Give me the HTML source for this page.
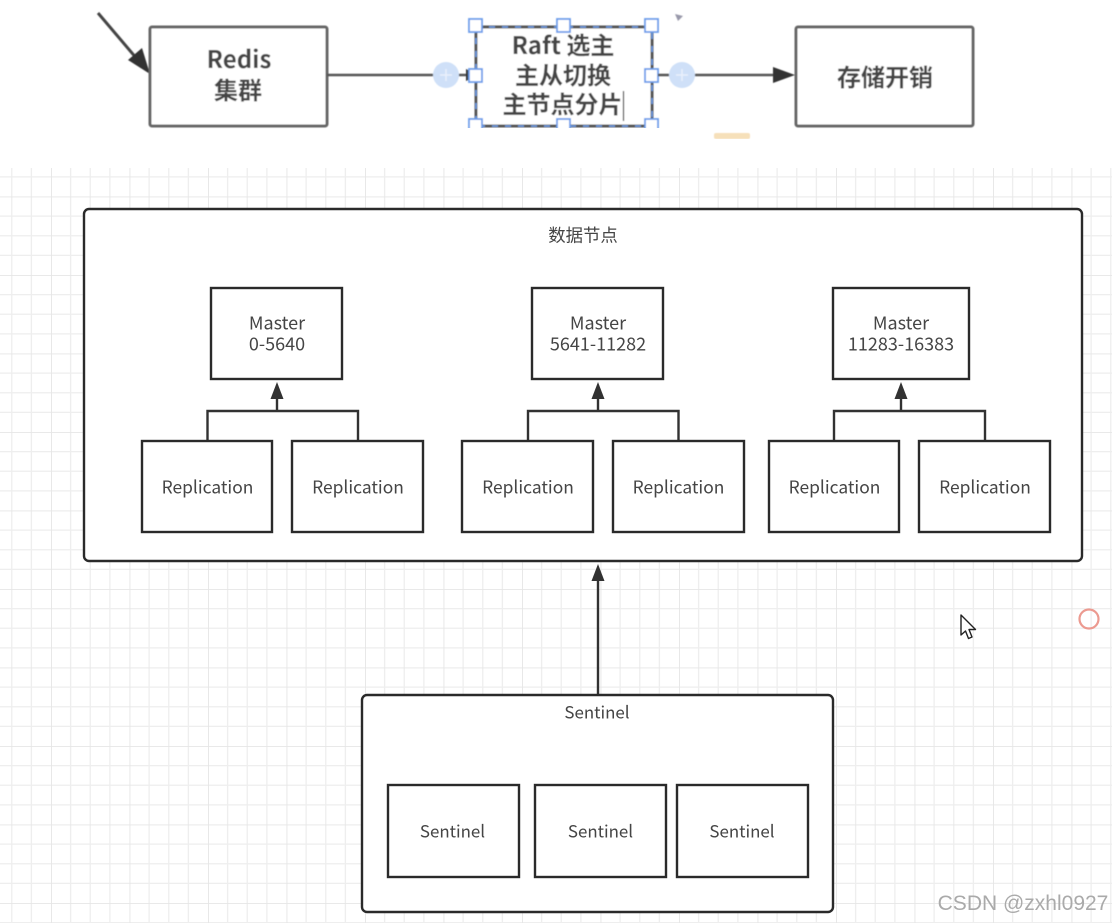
<!DOCTYPE html>
<html lang="zh">
<head>
<meta charset="utf-8">
<title>Redis Sentinel</title>
<style>
html,body{margin:0;padding:0;background:#fff}
body{width:1112px;height:923px;overflow:hidden}
svg{display:block}
text{font-family:"Noto Sans CJK SC","Liberation Sans",sans-serif;text-anchor:middle}
.t{font-size:17.4px;fill:#444}
.m{font-size:18px;fill:#444}
.s{font-size:16.9px;fill:#444}
.b{font-size:24px;font-weight:700;fill:#444}
.box{fill:#fff;stroke:#2b2b2b;stroke-width:2.4}
.con{fill:none;stroke:#333;stroke-width:2.4}
.top{fill:#fff;stroke:#666;stroke-width:3}
.h{fill:#fff;stroke:#6d9eeb;stroke-width:1.8}
</style>
</head>
<body>
<svg width="1112" height="923" viewBox="0 0 1112 923" xmlns="http://www.w3.org/2000/svg">
<defs>
<pattern id="g" width="78.5" height="78.5" patternUnits="userSpaceOnUse" patternTransform="translate(51 39.5)">
<path d="M19.6 0V78.5M39.25 0V78.5M58.9 0V78.5M0 19.6H78.5M0 39.25H78.5M0 58.9H78.5" stroke="#eeeeee" stroke-width="1.3" fill="none"/>
<path d="M0 0V78.5M0 0H78.5" stroke="#e6e6e6" stroke-width="1.8" fill="none"/>
</pattern>
<filter id="bl"><feGaussianBlur stdDeviation="0.55"/></filter>
<filter id="bs"><feGaussianBlur stdDeviation="0.3"/></filter>
</defs>
<rect x="0" y="168" width="1112" height="755" fill="url(#g)"/>

<g filter="url(#bl)">
<path d="M98 13L143 66" stroke="#444" stroke-width="3" fill="none"/>
<path d="M150 74L128 60L142 48Z" fill="#333"/>
<rect class="top" x="150" y="27" width="177" height="99" rx="2"/>
<text class="b" x="239" y="68">Redis</text>
<text class="b" x="238" y="99">集群</text>
<path d="M327 75H470" stroke="#555" stroke-width="2.4" fill="none"/>
<path d="M466 69L478 75L466 81Z" fill="#333"/>
<circle cx="446" cy="75" r="13" fill="#cfe0f8"/>
<path d="M440 75H452M446 69V81" stroke="#e9f0fc" stroke-width="1.5"/>
<rect x="476" y="27" width="176" height="99" fill="#fff" stroke="#555" stroke-width="3"/>
<rect x="476" y="27" width="176" height="99" fill="none" stroke="#6d9eeb" stroke-width="1.6" stroke-dasharray="6 7"/>
<text class="b" x="563" y="54">Raft 选主</text>
<text class="b" x="563" y="84">主从切换</text>
<text class="b" x="562.500" y="113">主节点分片</text>
<path d="M623.500 91V121" stroke="#333" stroke-width="1.2"/>
<rect class="h" x="469" y="19" width="13" height="13"/>
<rect class="h" x="557" y="19" width="13" height="13"/>
<rect class="h" x="645" y="19" width="13" height="13"/>
<rect class="h" x="469" y="69" width="13" height="13"/>
<rect class="h" x="645" y="69" width="13" height="13"/>
<rect class="h" x="469" y="119" width="13" height="13"/>
<rect class="h" x="557" y="119" width="13" height="13"/>
<rect class="h" x="645" y="119" width="13" height="13"/>
<path d="M658 75H780" stroke="#555" stroke-width="2.4" fill="none"/>
<path d="M773 67L795 75L773 83Z" fill="#333"/>
<circle cx="682" cy="75" r="13" fill="#cfe0f8"/>
<path d="M676 75H688M682 69V81" stroke="#e9f0fc" stroke-width="1.5"/>
<rect class="top" x="796" y="27" width="177" height="99" rx="2"/>
<text class="b" x="885" y="86">存储开销</text>
<path d="M675 14L683 16L678 21Z" fill="#99a"/>
</g>
<rect x="362" y="128" width="398" height="11" fill="#fff"/>
<path d="M362 128.500H760" stroke="#efefef" stroke-width="1.2" filter="url(#bl)"/>
<rect x="714" y="133" width="36" height="6" rx="2" fill="#f6e0ba" filter="url(#bl)"/>
<rect x="0" y="139" width="1112" height="29" fill="#fff"/>

<g filter="url(#bs)">
<rect class="box" x="84" y="209" width="998" height="352" rx="5"/>
<text class="t" x="583" y="241.700">数据节点</text>

<rect class="box" x="211" y="288" width="131" height="91"/>
<text class="m" x="277" y="329.700">Master</text>
<text class="m" x="277" y="350.700">0-5640</text>
<rect class="box" x="532" y="288" width="131" height="91"/>
<text class="m" x="598" y="329.700">Master</text>
<text class="m" x="598" y="350.700">5641-11282</text>
<rect class="box" x="833" y="288" width="136" height="91"/>
<text class="m" x="901" y="329.700">Master</text>
<text class="m" x="901" y="350.700">11283-16383</text>

<path class="con" d="M207.500 441V411H358V441M277 411V395"/>
<path d="M277 382L283.500 399H270.500Z" fill="#333"/>
<path class="con" d="M528 441V411H678.500V441M598 411V395"/>
<path d="M598 382L604.500 399H591.500Z" fill="#333"/>
<path class="con" d="M834 441V411H985V441M901 411V395"/>
<path d="M901 382L907.500 399H894.500Z" fill="#333"/>

<rect class="box" x="142" y="441" width="130" height="91"/>
<text class="t" x="207.500" y="493.500">Replication</text>
<rect class="box" x="292" y="441" width="131" height="91"/>
<text class="t" x="358" y="493.500">Replication</text>
<rect class="box" x="462" y="441" width="131" height="91"/>
<text class="t" x="528" y="493.500">Replication</text>
<rect class="box" x="613" y="441" width="131" height="91"/>
<text class="t" x="678.500" y="493.500">Replication</text>
<rect class="box" x="769" y="441" width="130" height="91"/>
<text class="t" x="834.500" y="493.500">Replication</text>
<rect class="box" x="919" y="441" width="131" height="91"/>
<text class="t" x="985" y="493.500">Replication</text>

<path class="con" d="M598 695V578"/>
<path d="M598 564L604.500 581H591.500Z" fill="#333"/>

<rect class="box" x="362" y="695" width="471" height="217" rx="5"/>
<text class="s" x="597" y="718.500">Sentinel</text>
<rect class="box" x="388" y="785" width="131" height="92"/>
<text class="s" x="452.500" y="837.500">Sentinel</text>
<rect class="box" x="535" y="785" width="131" height="92"/>
<text class="s" x="600.500" y="837.500">Sentinel</text>
<rect class="box" x="677" y="785" width="131" height="92"/>
<text class="s" x="742" y="837.500">Sentinel</text>
</g>

<path d="M961 615V635L965.500 631L968.500 638.500L972 637L969 629.500H975.500Z" fill="#fff" stroke="#222" stroke-width="1.4" stroke-linejoin="round"/>
<circle cx="1089" cy="619" r="9.500" fill="none" stroke="#ec9a90" stroke-width="2.2"/>
<text x="1023" y="910" style="font-family:'Liberation Sans',sans-serif;font-size:21px;fill:#aaa">CSDN @zxhl0927</text>
</svg>
</body>
</html>
